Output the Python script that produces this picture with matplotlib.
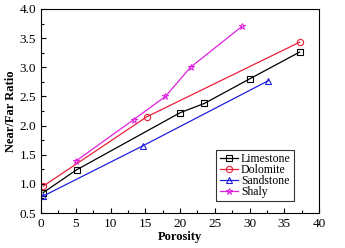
import matplotlib
matplotlib.use("Agg")
from matplotlib import pyplot as plt
from matplotlib.ticker import MultipleLocator

plt.rcParams['font.family'] = ['Liberation Serif', 'DejaVu Serif']

# values
lime_x = [0.3, 5.1, 20.0, 23.5, 30.0, 37.2]
lime_y = [0.85, 1.24, 2.22, 2.38, 2.80, 3.26]
dolo_x = [0.3, 15.2, 37.2]
dolo_y = [0.96, 2.15, 3.43]
sand_x = [0.3, 14.6, 32.7]
sand_y = [0.79, 1.65, 2.77]
shaly_x = [5.0, 13.3, 17.9, 21.5, 28.9]
shaly_y = [1.39, 2.10, 2.50, 3.00, 3.70]

fig = plt.figure(figsize=(3.45, 2.48), dpi=100)
ax = fig.add_axes([0.119, 0.141, 0.806, 0.823])

ms = 4.5
ax.plot(lime_x, lime_y, color='black', lw=0.9, marker='s', ms=ms - 0.5, mfc='none', mew=0.8, label='Limestone')
ax.plot(dolo_x, dolo_y, color='#e8203a', lw=0.9, marker='o', ms=ms, mfc='none', mew=0.8, label='Dolomite')
ax.plot(sand_x, sand_y, color='#2020e0', lw=0.9, marker='^', ms=ms, mfc='none', mew=0.8, label='Sandstone')
ax.plot(shaly_x, shaly_y, color='#e020e0', lw=0.9, marker='*', ms=ms, mfc='none', mew=0.7, label='Shaly')

ax.set_xlim(0, 40)
ax.set_ylim(0.5, 4.0)
ax.xaxis.set_major_locator(MultipleLocator(5))
ax.xaxis.set_minor_locator(MultipleLocator(2.5))
ax.yaxis.set_major_locator(MultipleLocator(0.5))
ax.yaxis.set_minor_locator(MultipleLocator(0.25))
ax.yaxis.set_major_formatter(matplotlib.ticker.FormatStrFormatter('%.1f'))
ax.tick_params(which='both', direction='in', top=False, right=False, labelsize=9.5)
ax.tick_params(which='major', length=3.5, width=0.8)
ax.tick_params(which='minor', length=2, width=0.8)
for s in ax.spines.values():
  s.set_linewidth(0.8)

ax.set_xlabel('Porosity', fontsize=9, fontweight='bold', labelpad=1)
ax.set_ylabel('Near/Far Ratio', fontsize=9, fontweight='bold', labelpad=2)

leg = ax.legend(loc='lower right', bbox_to_anchor=(0.91, 0.058), fontsize=8.5, frameon=True,
                fancybox=False, edgecolor='black', handlelength=1.6, handletextpad=0.2,
                labelspacing=-0.1, borderpad=0.3, borderaxespad=0)
leg.get_frame().set_linewidth(0.8)

fig.savefig('out.png', dpi=100)
